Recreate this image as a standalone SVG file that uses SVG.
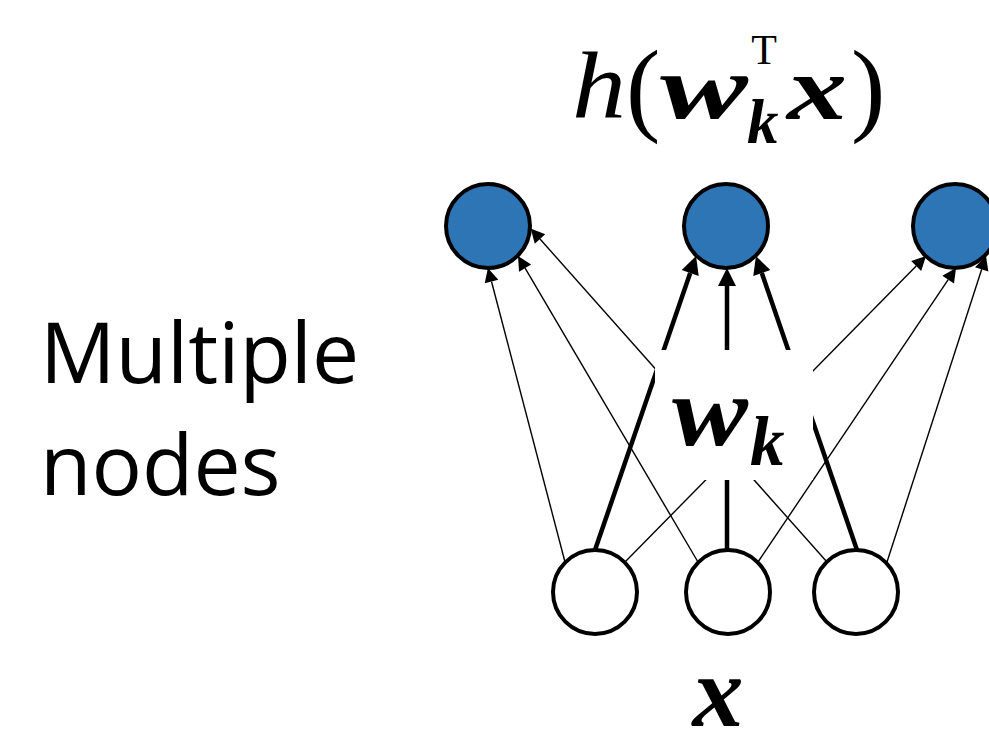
<svg xmlns="http://www.w3.org/2000/svg" width="989" height="735" viewBox="0 0 989 735">
<style>
.lbl{font-family:"Open Sans","Liberation Sans",sans-serif;font-size:84px;fill:#000}
.m{font-family:"Liberation Serif",serif;fill:#000}
.bi{font-style:italic;font-weight:bold}
.it{font-style:italic}
.top{fill:#2E75B6;stroke:#000;stroke-width:4}
.bot{fill:#fff;stroke:#000;stroke-width:4}
.thin{stroke:#000;stroke-width:1.4;fill:none;marker-end:url(#ah)}
.thick{stroke:#000;stroke-width:4.5;fill:none;marker-end:url(#ahb)}
</style>
<defs>
<marker id="ah" markerUnits="userSpaceOnUse" refX="0" refY="0" orient="auto" markerWidth="20" markerHeight="20" overflow="visible"><path d="M0,-7 L14,0 L0,7 z" fill="#000"/></marker>
<marker id="ahb" markerUnits="userSpaceOnUse" refX="0" refY="0" orient="auto" markerWidth="24" markerHeight="24" overflow="visible"><path d="M0,-9 L18,0 L0,9 z" fill="#000"/></marker>
</defs>
<rect width="989" height="735" fill="#fff"/>
<g id="title">
<text class="lbl" x="40" y="383">Multiple</text>
<text class="lbl" x="40" y="495">nodes</text>
</g>
<g id="formula">
<text class="m it" x="572" y="118" font-size="95" textLength="54" lengthAdjust="spacingAndGlyphs">h</text>
<text class="m" x="626" y="122" font-size="103">(</text>
<text class="m bi" x="660" y="118" font-size="92" textLength="88" lengthAdjust="spacingAndGlyphs">w</text>
<text class="m" x="764" y="64" font-size="42" text-anchor="middle">T</text>
<text class="m bi" x="747" y="143" font-size="63">k</text>
<text class="m bi" x="787" y="119" font-size="92" textLength="60" lengthAdjust="spacingAndGlyphs">x</text>
<text class="m" x="851" y="122" font-size="103">)</text>
</g>
<g id="connectors">
<path class="thin" d="M565,562 L491.5,281.5"/>
<path class="thick" d="M595,550 L690.2,273"/>
<path class="thin" d="M625,562 L916.2,266"/>
<path class="thin" d="M698,562 L525.1,268.1"/>
<path class="thick" d="M727,550 L727,286"/>
<path class="thin" d="M758,562 L948.2,279.6"/>
<path class="thin" d="M827,562 L540,239"/>
<path class="thick" d="M857,550 L761.8,273"/>
<path class="thin" d="M887,562 L981.7,269.3"/>
</g>
<g id="weight-label">
<rect x="655" y="350" width="158" height="130" fill="#fff"/>
<text class="m bi" x="672" y="445" font-size="100" textLength="76" lengthAdjust="spacingAndGlyphs">w</text>
<text class="m bi" x="750" y="465" font-size="69">k</text>
</g>
<g id="out1"><circle class="top" cx="488" cy="226" r="42"/></g>
<g id="out2"><circle class="top" cx="726" cy="226" r="42"/></g>
<g id="out3"><circle class="top" cx="955" cy="226" r="42"/></g>
<g id="in1"><circle class="bot" cx="595" cy="592" r="42"/></g>
<g id="in2"><circle class="bot" cx="728" cy="592" r="42"/></g>
<g id="in3"><circle class="bot" cx="856" cy="592" r="42"/></g>
<g id="input-label">
<text class="m bi" x="718" y="726" font-size="102" text-anchor="middle">x</text>
</g>
</svg>
